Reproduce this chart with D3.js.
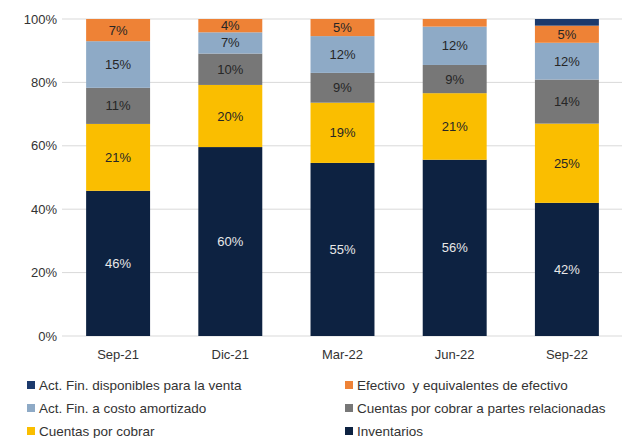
<!DOCTYPE html>
<html>
<head>
<meta charset="utf-8">
<script src="https://cdn.jsdelivr.net/npm/d3@7"></script>
<style>
  body { margin: 0; background: #fff; }
  text { font-family: "Liberation Sans", Arial, sans-serif; }
</style>
</head>
<body>
<svg id="chart" width="622" height="438"></svg>
<script>
const periods = ['Sep-21', 'Dic-21', 'Mar-22', 'Jun-22', 'Sep-22'];

// stacked bottom to top
const inventarios = [45.8, 59.6, 54.6, 55.6, 42.0];
const cuentasCobrar = [21.1, 19.6, 19.0, 21.0, 25.0];
const partesRelacionadas = [11.4, 9.9, 9.4, 8.9, 13.9];
const costoAmortizado = [14.7, 6.7, 11.6, 12.1, 11.6];
const efectivo = [7.0, 4.2, 5.4, 2.4, 5.4];
const disponibles = [0, 0, 0, 0, 2.1];

const yTicks = [0, 20, 40, 60, 80, 100];

const series = [
  { name: 'Inventarios', values: inventarios, color: '#0d2241', text: '#e8e8e8' },
  { name: 'Cuentas por cobrar', values: cuentasCobrar, color: '#fabe00', text: '#262626' },
  { name: 'Cuentas por cobrar a partes relacionadas', values: partesRelacionadas, color: '#777777', text: '#262626' },
  { name: 'Act. Fin. a costo amortizado', values: costoAmortizado, color: '#8eaac6', text: '#262626' },
  { name: 'Efectivo  y equivalentes de efectivo', values: efectivo, color: '#ee8236', text: '#262626' },
  { name: 'Act. Fin. disponibles para la venta', values: disponibles, color: '#1c3a6c', text: '#262626' }
];

// legend reading order: left col / right col per row
const legendOrder = [
  'Act. Fin. disponibles para la venta', 'Efectivo  y equivalentes de efectivo',
  'Act. Fin. a costo amortizado', 'Cuentas por cobrar a partes relacionadas',
  'Cuentas por cobrar', 'Inventarios'
];

const svg = d3.select('#chart');
const plotLeft = 62, plotRight = 623, plotTop = 19, plotBottom = 336;

const x = d3.scaleBand().domain(periods).range([plotLeft, plotRight]).paddingInner(0.43).paddingOuter(0.215);
const y = d3.scaleLinear().domain([0, 100]).range([plotBottom, plotTop]);

// grid
svg.append('g').selectAll('line').data(yTicks).enter().append('line')
  .attr('x1', plotLeft).attr('x2', 622)
  .attr('y1', d => y(d)).attr('y2', d => y(d))
  .attr('stroke', '#d9d9d9').attr('stroke-width', 1);

// y labels
svg.append('g').selectAll('text').data(yTicks).enter().append('text')
  .attr('x', 57).attr('y', d => y(d)).attr('dy', '0.35em')
  .attr('text-anchor', 'end').attr('font-size', 13).attr('fill', '#333')
  .text(d => d + '%');

// x labels
svg.append('g').selectAll('text').data(periods).enter().append('text')
  .attr('x', d => x(d) + x.bandwidth() / 2).attr('y', 359)
  .attr('text-anchor', 'middle').attr('font-size', 13).attr('fill', '#333')
  .text(d => d);

const table = periods.map((p, i) => {
  const row = { period: p };
  series.forEach(s => { row[s.name] = s.values[i]; });
  return row;
});
const stack = d3.stack().keys(series.map(s => s.name))(table);

const layers = svg.append('g').selectAll('g').data(stack).enter().append('g')
  .attr('fill', (d, i) => series[i].color);

layers.selectAll('rect').data(d => d).enter().append('rect')
  .attr('x', d => x(d.data.period))
  .attr('width', x.bandwidth())
  .attr('y', d => y(d[1]))
  .attr('height', d => y(d[0]) - y(d[1]));

layers.each(function(layer, i) {
  d3.select(this).selectAll('text').data(layer.filter(d => d[1] - d[0] >= 3)).enter().append('text')
    .attr('x', d => x(d.data.period) + x.bandwidth() / 2)
    .attr('y', d => y((d[0] + d[1]) / 2))
    .attr('dy', '0.35em')
    .attr('text-anchor', 'middle').attr('font-size', 13)
    .attr('fill', series[i].text)
    .text(d => Math.round(d[1] - d[0]) + '%');
});

// legend
const legend = svg.append('g').selectAll('g').data(legendOrder).enter().append('g')
  .attr('transform', (d, i) => `translate(${i % 2 ? 345 : 27},${385 + Math.floor(i / 2) * 23})`);

legend.append('rect')
  .attr('x', 0).attr('y', -4).attr('width', 8).attr('height', 8)
  .attr('fill', d => series.find(s => s.name === d).color);

legend.append('text')
  .attr('x', 12).attr('dy', '0.35em')
  .attr('font-size', 13.5).attr('fill', '#333')
  .style('white-space', 'pre')
  .text(d => d);
</script>
</body>
</html>
